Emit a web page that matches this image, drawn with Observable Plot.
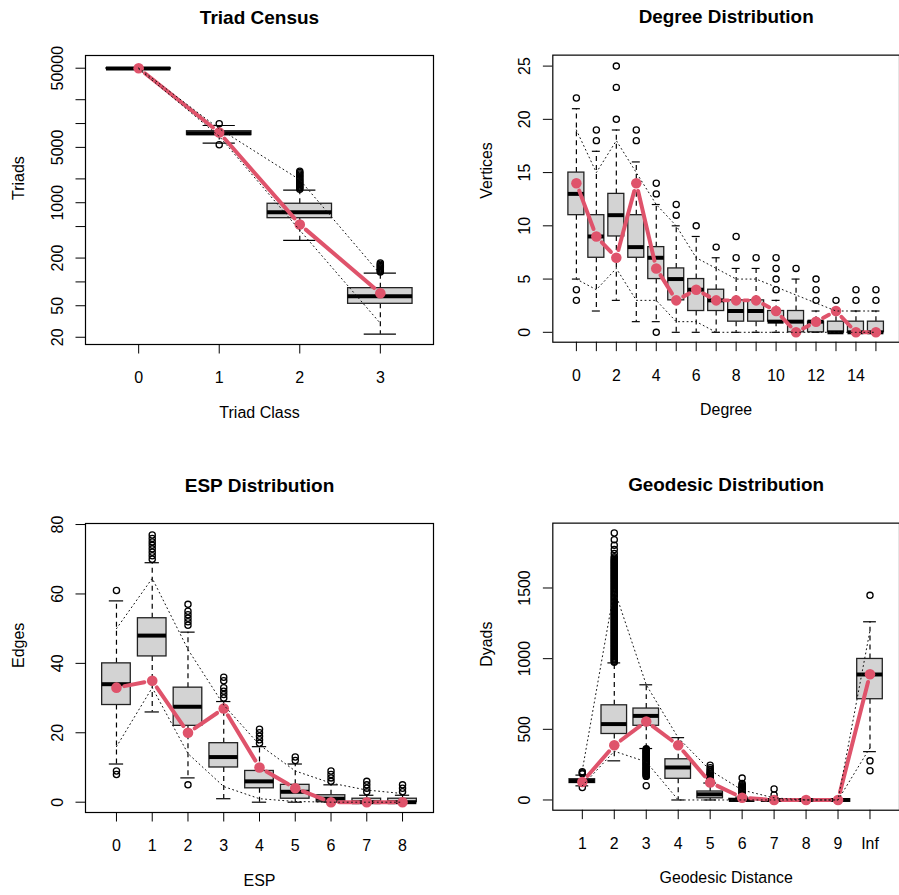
<!DOCTYPE html>
<html><head><meta charset="utf-8">
<script src="https://cdn.jsdelivr.net/npm/d3@7"></script>
<script src="https://cdn.jsdelivr.net/npm/@observablehq/plot@0.6"></script>
<style>
html,body{margin:0;padding:0;background:#fff;overflow:hidden;}
#wrap{position:relative;width:899px;height:895px;overflow:hidden;background:#fff;}
.panel{position:absolute;}
</style></head><body><div id="wrap"></div>
<script>
const FONT = "'Liberation Sans', Arial, Helvetica, sans-serif";
const RED = "#DF536B";

// ---------- Panel 1: Triad Census ----------
const triadCats = ["0", "1", "2", "3"];
const triadLo  = [48800, 5650, 334, 21.9];
const triadQ1  = [49300, 7150, 638, 52.9];
const triadMed = [49600, 7550, 760, 66];
const triadQ3  = [49800, 8000, 971, 83.4];
const triadHi  = [50500, 9455, 1441, 129];
const triadOut = [[], [9930, 5400],
  [1480, 1530, 1580, 1640, 1700, 1760, 1830, 1900, 1970, 2050, 2130, 2220, 2310, 2400, 2500],
  [133, 137, 141, 146, 151, 156, 161, 167, 173]];
const triadObs = [49900, 7710, 532, 72];
const triadBandHi = [50300, 8600, 1950, 125];
const triadBandLo = [49000, 6900, 450, 30];
const triadYTicks = [20, 50, 100, 200, 500, 1000, 2000, 5000, 10000, 20000, 50000];
const triadYLabels = [20, 50, 200, 1000, 5000, 50000];

// ---------- Panel 2: Degree Distribution ----------
const degCats = ["0","1","2","3","4","5","6","7","8","9","10","11","12","13","14","15"];
const degLo  = [5, 2, 3, 1, 1, 0, 0, 0, 0, 0, 0, 0, 0, 0, 0, 0];
const degQ1  = [11, 7, 9, 7, 5, 3, 2, 2, 1, 1, 1, 0, 0, 0, 0, 0];
const degMed = [13, 9, 11, 8, 7, 5, 4, 3, 2, 2, 1, 1, 1, 0, 0, 0];
const degQ3  = [15, 11, 13, 11, 8, 6, 5, 4, 3, 3, 2, 2, 1, 1, 1, 1];
const degHi  = [21, 17, 19, 16, 12, 10, 9, 7, 6, 6, 3, 5, 2, 2, 2, 2];
const degOut = [[22, 4, 3], [18, 19], [20, 23, 25], [18, 19], [13, 14, 0], [11, 12], [10], [8],
  [7, 9], [7], [4, 5, 6, 7], [6], [3, 4, 5], [3], [3, 4], [3, 4]];
const degObs = [14, 9, 7, 14, 6, 3, 4, 3, 3, 3, 2, 0, 1, 2, 0, 0];
const degBandHi = [19, 15, 18, 15, 12, 10, 7, 6, 5, 5, 4.25, 3.5, 2.75, 2, 2, 2];
const degBandLo = [5, 4, 6, 3, 3, 1, 1, 0, 0, 0, 0, 0, 0, 0, 0, 0];
const degXLabels = ["0","2","4","6","8","10","12","14"];
const degYTicks = [0, 5, 10, 15, 20, 25];

// ---------- Panel 3: ESP Distribution ----------
const espCats = ["0","1","2","3","4","5","6","7","8"];
const espLo  = [11, 26, 7, 1, 0, 0, 0, 0, 0];
const espQ1  = [28, 42, 22, 10, 4, 1, 0, 0, 0];
const espMed = [34, 48, 27.5, 13, 6, 3, 1, 0, 0];
const espQ3  = [40, 53, 33, 17, 9, 5, 2, 1, 1];
const espHi  = [58, 69, 49, 29, 16, 11, 5, 2, 2];
const espOut = [[61, 9, 8], [70, 71, 72, 73, 74, 75, 76, 77], [51, 52, 53, 54, 55, 57, 5],
  [30, 31, 32, 33, 35, 36], [17, 18, 19, 20, 21], [12, 13], [6, 7, 8, 9], [3, 4, 5, 6], [3, 4, 5]];
const espObs = [33, 35, 20, 27, 10, 4, 0, 0, 0];
const espBandHi = [50, 64.5, 44, 28, 16.5, 9, 5.5, 3.5, 2.5];
const espBandLo = [16, 33, 14, 4.5, 1, 0.2, 0, 0, 0];
const espYTicks = [0, 20, 40, 60, 80];

// ---------- Panel 4: Geodesic Distribution ----------
const geoCats = ["1","2","3","4","5","6","7","8","9","Inf"];
const geoLo  = [100, 277, 364, 0, 0, 0, 0, 0, 0, 342];
const geoQ1  = [120, 467, 525, 150, 12, 0, 0, 0, 0, 713];
const geoMed = [134, 537, 595, 230, 40, 0, 0, 0, 0, 888];
const geoQ3  = [147, 670, 647, 288, 60, 8, 0, 0, 0, 998];
const geoHi  = [176, 970, 815, 441, 120, 20, 0, 0, 0, 1261];
const geoOut = [
  [185, 192, 200, 88],
  [975, 982, 990, 997, 1005, 1013, 1020, 1028, 1036, 1043, 1051, 1059, 1066, 1074, 1082, 1089,
   1097, 1105, 1112, 1120, 1128, 1135, 1143, 1151, 1158, 1166, 1174, 1181, 1189, 1197, 1204, 1212,
   1220, 1227, 1235, 1243, 1250, 1258, 1266, 1273, 1281, 1289, 1296, 1304, 1312, 1319, 1327, 1335,
   1342, 1350, 1358, 1365, 1373, 1381, 1388, 1396, 1404, 1411, 1419, 1427, 1434, 1442, 1450, 1457,
   1465, 1473, 1480, 1488, 1496, 1503, 1511, 1519, 1526, 1534, 1542, 1549, 1557, 1565, 1572, 1580,
   1588, 1595, 1603, 1611, 1618, 1626, 1634, 1641, 1649, 1657, 1664, 1672, 1680, 1687, 1695, 1703,
   1712, 1722, 1745, 1772, 1803, 1842, 1889],
  [362, 357, 352, 347, 342, 337, 332, 327, 322, 317, 312, 307, 302, 297, 292, 287, 282, 277, 272,
   267, 262, 257, 252, 247, 242, 237, 232, 227, 222, 217, 212, 207, 202, 197, 192, 187, 182, 177,
   172, 167, 101],
  [],
  [128, 134, 140, 146, 152, 158, 164, 170, 176, 182, 188, 196, 205, 215, 228, 246],
  [28, 34, 40, 46, 52, 58, 64, 70, 76, 82, 88, 94, 100, 108, 116, 155],
  [35, 78],
  [], [],
  [1448, 277, 207]];
const geoObs = [127, 387, 556, 387, 124, 16, 0, 0, 0, 890];
const geoBandHi = [210, 1490, 815, 440, 210, 70, 15, 0, 0, 1200];
const geoBandLo = [100, 345, 270, 0, 0, 0, 0, 0, 0, 370];
const geoYTicks = [0, 500, 1000, 1500];

function panel(cfg) {
  const n = cfg.cats.length;
  const idx = d3.range(n);
  const boxes = idx.map(i => ({x: i, lo: cfg.lo[i], q1: cfg.q1[i], med: cfg.med[i], q3: cfg.q3[i], hi: cfg.hi[i]}));
  const outl = cfg.out.flatMap((arr, i) => arr.map(v => ({x: i, y: v})));
  const obs = idx.map(i => ({x: i, y: cfg.obs[i]}));
  const segs = idx.slice(0, -1).map(i => ({x1: i, y1: cfg.obs[i], x2: i + 1, y2: cfg.obs[i + 1]}));
  const bandLo = idx.map(i => ({x: i, y: cfg.bandLo[i]}));
  const bandHi = idx.map(i => ({x: i, y: cfg.bandHi[i]}));
  const W = 0.4, S = 0.2;
  const dotted = {stroke: "#111", strokeWidth: 1, strokeDasharray: "1,3.3"};
  return Plot.plot({
    width: cfg.width, height: 447,
    marginLeft: cfg.ml, marginRight: cfg.mr, marginTop: 55, marginBottom: 103,
    style: {fontFamily: FONT, fontSize: "16px", color: "black", background: "white", overflow: "visible"},
    x: {type: "linear", domain: cfg.xdom},
    y: {type: cfg.ytype || "linear", domain: cfg.ydom},
    marks: [
      Plot.ruleX(boxes, {x: "x", y1: "q3", y2: "hi", stroke: "black", strokeWidth: 1.2, strokeDasharray: "5,4"}),
      Plot.ruleX(boxes, {x: "x", y1: "q1", y2: "lo", stroke: "black", strokeWidth: 1.2, strokeDasharray: "5,4"}),
      Plot.ruleY(boxes, {y: "hi", x1: d => d.x - S, x2: d => d.x + S, stroke: "black", strokeWidth: 1.2}),
      Plot.ruleY(boxes, {y: "lo", x1: d => d.x - S, x2: d => d.x + S, stroke: "black", strokeWidth: 1.2}),
      Plot.rect(boxes, {x1: d => d.x - W, x2: d => d.x + W, y1: "q1", y2: "q3", fill: "#D3D3D3", stroke: "#222", strokeWidth: 1.3}),
      Plot.ruleY(boxes, {y: "med", x1: d => d.x - W, x2: d => d.x + W, stroke: "black", strokeWidth: 4}),
      Plot.dot(outl, {x: "x", y: "y", r: 3.1, stroke: "black", strokeWidth: 1.3, fill: "none"}),
      Plot.dot(obs, {x: "x", y: "y", r: 5.3, fill: RED, stroke: "none"}),
      Plot.arrow(segs, {x1: "x1", y1: "y1", x2: "x2", y2: "y2", stroke: RED, strokeWidth: 4, headLength: 0, inset: 8}),
      Plot.line(bandLo, {x: "x", y: "y", ...dotted}),
      Plot.line(bandHi, {x: "x", y: "y", ...dotted}),
      Plot.frame({stroke: "black", strokeWidth: 1.2}),
      Plot.axisX({ticks: idx, tickSize: 9.5, tickPadding: 18, label: null, fontSize: 16,
        tickFormat: i => cfg.xShow.includes(cfg.cats[i]) ? cfg.cats[i] : ""}),
      Plot.axisY({ticks: cfg.yticks, tickSize: 9.5, label: null, tickFormat: () => ""}),
      Plot.text(cfg.yShow, {y: d => d, text: d => String(d), frameAnchor: "left", dx: -22.5, rotate: -90,
        textAnchor: "middle", lineAnchor: "bottom", fontSize: 16}),
      Plot.text([cfg.title], {frameAnchor: "top", dy: -38, lineAnchor: "middle", fontWeight: "bold", fontSize: 19, text: d => d}),
      Plot.text([cfg.xlabel], {frameAnchor: "bottom", dy: 68, lineAnchor: "middle", fontSize: 16, text: d => d}),
      Plot.text([cfg.ylabel], {frameAnchor: "left", dx: cfg.yldx, lineAnchor: "middle", rotate: -90, fontSize: 16, text: d => d})
    ]
  });
}

const wrap = document.getElementById("wrap");
function place(node, left, top) {
  const d = document.createElement("div");
  d.className = "panel";
  d.style.left = left + "px";
  d.style.top = top + "px";
  d.appendChild(node);
  wrap.appendChild(d);
}

place(panel({
  cats: triadCats, lo: triadLo, q1: triadQ1, med: triadMed, q3: triadQ3, hi: triadHi, out: triadOut,
  obs: triadObs, bandHi: triadBandHi, bandLo: triadBandLo,
  width: 450, ml: 85, mr: 17, xdom: [-0.66, 3.66], ytype: "log", ydom: [16.2, 72350],
  yticks: triadYTicks, yShow: triadYLabels, xShow: triadCats,
  title: "Triad Census", xlabel: "Triad Class", ylabel: "Triads", yldx: -67
}), 0, 0);

place(panel({
  cats: degCats, lo: degLo, q1: degQ1, med: degMed, q3: degQ3, hi: degHi, out: degOut,
  obs: degObs, bandHi: degBandHi, bandLo: degBandLo,
  width: 452, ml: 103, mr: 0, xdom: [-1.18, 16.18], ydom: [-0.93, 26.03],
  yticks: degYTicks, yShow: degYTicks, xShow: degXLabels,
  title: "Degree Distribution", xlabel: "Degree", ylabel: "Vertices", yldx: -66
}), 450, 0);

place(panel({
  cats: espCats, lo: espLo, q1: espQ1, med: espMed, q3: espQ3, hi: espHi, out: espOut,
  obs: espObs, bandHi: espBandHi, bandLo: espBandLo,
  width: 450, ml: 85, mr: 17, xdom: [-0.866, 8.866], ydom: [-2.97, 80.3],
  yticks: espYTicks, yShow: espYTicks, xShow: espCats,
  title: "ESP Distribution", xlabel: "ESP", ylabel: "Edges", yldx: -67
}), 0, 468);

place(panel({
  cats: geoCats, lo: geoLo, q1: geoQ1, med: geoMed, q3: geoQ3, hi: geoHi, out: geoOut,
  obs: geoObs, bandHi: geoBandHi, bandLo: geoBandLo,
  width: 452, ml: 103, mr: 0, xdom: [-0.923, 9.923], ydom: [-72.4, 1959],
  yticks: geoYTicks, yShow: geoYTicks, xShow: geoCats,
  title: "Geodesic Distribution", xlabel: "Geodesic Distance", ylabel: "Dyads", yldx: -66
}), 450, 468);
</script>
</body></html>
